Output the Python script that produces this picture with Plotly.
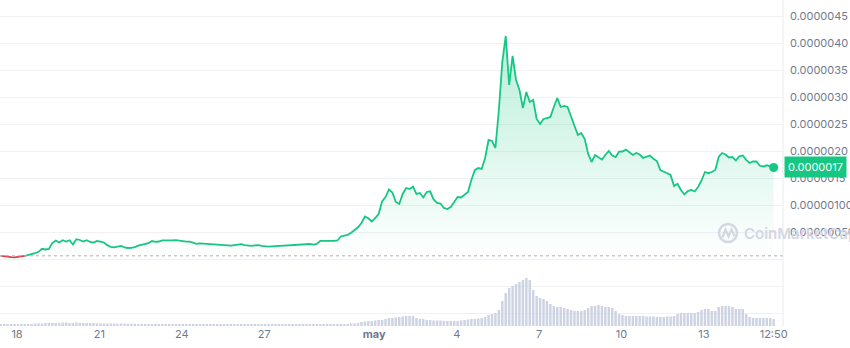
import pandas as pd
import plotly.graph_objects as go

# ---------------- data ----------------
start_time = "2023-04-17 09:50"
step = "3h"

# PEPE price, in units of 1e-9 USD (3-hour samples)
price_nano = [
    59, 48, 41, 35, 31, 41, 50, 56, 70, 83,
    107, 133, 189, 176, 185, 296, 343, 306, 348, 324,
    348, 269, 367, 352, 322, 348, 315, 304, 333, 324,
    306, 256, 226, 215, 235, 241, 217, 204, 207, 219,
    248, 263, 272, 293, 332, 319, 324, 346, 346, 341,
    344, 350, 341, 322, 320, 320, 302, 282, 291, 285,
    278, 272, 267, 263, 259, 254, 250, 248, 259, 270,
    274, 259, 248, 244, 254, 256, 244, 233, 230, 233,
    237, 241, 244, 250, 259, 263, 270, 278, 278, 274,
    278, 267, 278, 337, 335, 333, 335, 337, 343, 417,
    433, 448, 485, 528, 587, 667, 787, 754, 695, 756,
    833, 1065, 1148, 1287, 1232, 1056, 1019, 1204, 1315, 1296,
    1339, 1204, 1222, 1139, 1241, 1254, 1102, 1037, 1028, 945,
    926, 963, 1056, 1148, 1139, 1195, 1241, 1463, 1645, 1685,
    1667, 1871, 2204, 2185, 2056, 2759, 3648, 4130, 3222, 3760,
    3315, 3130, 2797, 3093, 2908, 2945, 2593, 2500, 2593, 2611,
    2630, 2815, 2982, 2815, 2834, 2815, 2630, 2472, 2296, 2334,
    2222, 1945, 1796, 1926, 1889, 1843, 1926, 2000, 1917, 1889,
    1987, 1991, 2028, 1982, 1926, 1963, 1935, 1871, 1889, 1917,
    1856, 1815, 1648, 1611, 1587, 1556, 1352, 1393, 1278, 1195,
    1259, 1278, 1250, 1333, 1454, 1611, 1589, 1611, 1648, 1889,
    1963, 1935, 1880, 1889, 1824, 1902, 1917, 1837, 1778, 1809,
    1806, 1726, 1713, 1735, 1722, 1695,
]

# trading volume, millions USD (3-hour samples)
volume_musd = [
    38, 38, 50, 50, 38, 38, 50, 50, 50, 50, 63, 63, 63, 75, 75, 75,
    75, 75, 88, 88, 75, 75, 88, 75, 75, 75, 75, 75, 63, 63,
    63, 63, 60, 63, 58, 63, 60, 55, 58, 55,
    50, 52, 50, 48, 50, 53, 50, 48, 50, 52, 50, 48, 50, 50, 47, 50, 52, 50, 48, 50,
    50, 47, 45, 48, 50, 45, 47,
    40, 38, 40, 42, 38, 40, 38, 37, 40, 38, 38, 40, 37, 38, 40, 38, 37, 38, 40, 38,
    38, 40, 42, 40, 38, 40, 42, 40, 42, 45, 45, 48, 50,
    50, 50, 63, 63, 75,
    100, 113, 125, 125, 138, 150,
    150, 175, 200, 200, 213,
    225, 238, 250, 250,
    250, 200, 175, 175,
    150, 150, 138, 138, 138, 125, 125, 125, 125, 125, 138, 150,
    163, 175, 175, 188, 200, 225, 275, 300, 325,
    400, 625, 825, 950, 1000, 1050, 1100, 1150, 1200, 1150,
    900, 750, 700, 675, 625, 550, 500, 475, 475, 450, 425, 400,
    375, 375, 375, 400, 450, 500, 500, 525, 500, 475, 475, 450, 375, 300,
    275, 250, 250, 250, 250, 250, 250, 238, 238, 238,
    225, 225, 225, 238, 238,
    250, 300, 325, 325, 325, 325, 325, 350,
    400, 425, 425, 375, 375,
    475, 500, 500, 500, 475, 425, 425, 425,
    300, 225, 200, 200, 200, 200, 200, 200, 175,
]

tick_dates = ["2023-04-18", "2023-04-21", "2023-04-24", "2023-04-27", "2023-05-01",
              "2023-05-04", "2023-05-07", "2023-05-10", "2023-05-13", "2023-05-15 12:50"]
tick_texts = ["18", "21", "24", "27", "<b>may</b>", "4", "7", "10", "13", "12:50"]

price_ticks = [-1.0e-6, -0.5e-6, 0.0, 0.5e-6, 1.0e-6, 1.5e-6, 2.0e-6, 2.5e-6, 3.0e-6, 3.5e-6, 4.0e-6, 4.5e-6]
price_tick_texts = ["", "", "", "0.000000500", "0.000001000", "0.0000015", "0.0000020",
                    "0.0000025", "0.0000030", "0.0000035", "0.0000040", "0.0000045"]
last_price_text = "0.0000017"
watermark_text = "CoinMarketCap"

# ---------------- figure ----------------
GREEN = "#16c784"
RED = "#ea3943"
AXIS_TXT = "#6f7a8e"
GRID = "#eff2f5"
WM = "#d3d7e3"

prices = [p * 1e-9 for p in price_nano]
times = pd.date_range(start_time, periods=len(prices), freq=step)
vtimes = pd.date_range(start_time, periods=len(volume_musd), freq=step)
base = prices[0]

# split into below-start (red) and above-start (green) segments
k = next(i for i in range(1, len(prices)) if prices[i] > base)
red_t, red_p = times[:k], prices[:k]
grn_t, grn_p = times[k - 1:], prices[k - 1:]

fig = go.Figure()

fig.add_trace(go.Bar(
    x=vtimes, y=volume_musd, yaxis="y2",
    marker=dict(color="#cdd3e2", line=dict(width=0)),
    hoverinfo="skip", showlegend=False,
))

# baseline for the fill
fig.add_trace(go.Scatter(
    x=grn_t, y=[base] * len(grn_t), mode="lines",
    line=dict(width=0, color="rgba(0,0,0,0)"), hoverinfo="skip", showlegend=False,
))
fig.add_trace(go.Scatter(
    x=grn_t, y=grn_p, mode="lines", fill="tonexty",
    fillgradient=dict(type="vertical",
                      colorscale=[[0.0, "rgba(22,199,132,0.0)"], [1.0, "rgba(22,199,132,0.30)"]]),
    line=dict(color=GREEN, width=1.8), showlegend=False,
))
fig.add_trace(go.Scatter(
    x=red_t, y=red_p, mode="lines",
    line=dict(color=RED, width=1.8), showlegend=False,
))
fig.add_trace(go.Scatter(
    x=[times[-1]], y=[prices[-1]], mode="markers",
    marker=dict(color=GREEN, size=9), showlegend=False,
))

# plot area geometry: 783 x 326 px
PW, PH = 783.0, 326.0
y_top = 4.7963e-6
y_bot = -1.2407e-6
vol_top = 8150


def px(x):
    return x / PW


def py(y):
    return (PH - y) / PH


fig.update_layout(
    width=850, height=348,
    margin=dict(l=0, r=67, t=0, b=22, autoexpand=False),
    paper_bgcolor="white", plot_bgcolor="white",
    font=dict(family="Inter, Roboto, sans-serif", size=11, color=AXIS_TXT),
    bargap=0.28,
    showlegend=False,
    xaxis=dict(
        type="date", automargin=False,
        range=["2023-04-17 09:08", "2023-05-15 21:00"],
        tickvals=tick_dates, ticktext=tick_texts,
        showgrid=False, zeroline=False, showline=False, ticks="",
        tickfont=dict(size=11, color=AXIS_TXT),
    ),
    yaxis=dict(
        side="right", range=[y_bot, y_top], automargin=False,
        tickvals=price_ticks, ticktext=price_tick_texts,
        showgrid=True, gridcolor=GRID, gridwidth=1,
        zeroline=False, showline=False, ticks="",
        ticklabelstandoff=6,
        tickfont=dict(size=11, color=AXIS_TXT),
    ),
    yaxis2=dict(overlaying="y", range=[0, vol_top], visible=False),
)

# starting-price dotted reference line
fig.add_shape(type="line", xref="paper", yref="y", x0=0, x1=1, y0=base, y1=base,
              line=dict(color="#a7b0bf", width=1, dash="dot"))
# right border
fig.add_shape(type="line", xref="paper", yref="paper", x0=1, x1=1, y0=0, y1=1,
              line=dict(color="#e6e9ee", width=1))

# watermark logo + text
fig.add_shape(type="circle", xref="paper", yref="paper",
              x0=px(719), x1=px(737), y0=py(242), y1=py(224),
              line=dict(color=WM, width=2.5))
wave = [(722.5, 237.5), (725.5, 229.5), (728.5, 236.5), (731.5, 229.5), (734.5, 236)]
path = "M " + " L ".join(f"{px(a):.5f},{py(b):.5f}" for a, b in wave)
fig.add_shape(type="path", xref="paper", yref="paper", path=path,
              line=dict(color=WM, width=2.2))
fig.add_annotation(xref="paper", yref="paper", x=px(742), y=py(233), xanchor="left", yanchor="middle",
                   text=watermark_text, showarrow=False,
                   font=dict(size=15, color=WM, family="Inter, Roboto, sans-serif", weight=600))

# last price tag
fig.add_annotation(xref="paper", yref="y", x=1, y=prices[-1], xanchor="left", yanchor="middle",
                   xshift=1, text=last_price_text, showarrow=False,
                   bgcolor=GREEN, borderpad=3,
                   font=dict(size=11, color="white", family="Inter, Roboto, sans-serif"))

fig.write_html("out.html")
